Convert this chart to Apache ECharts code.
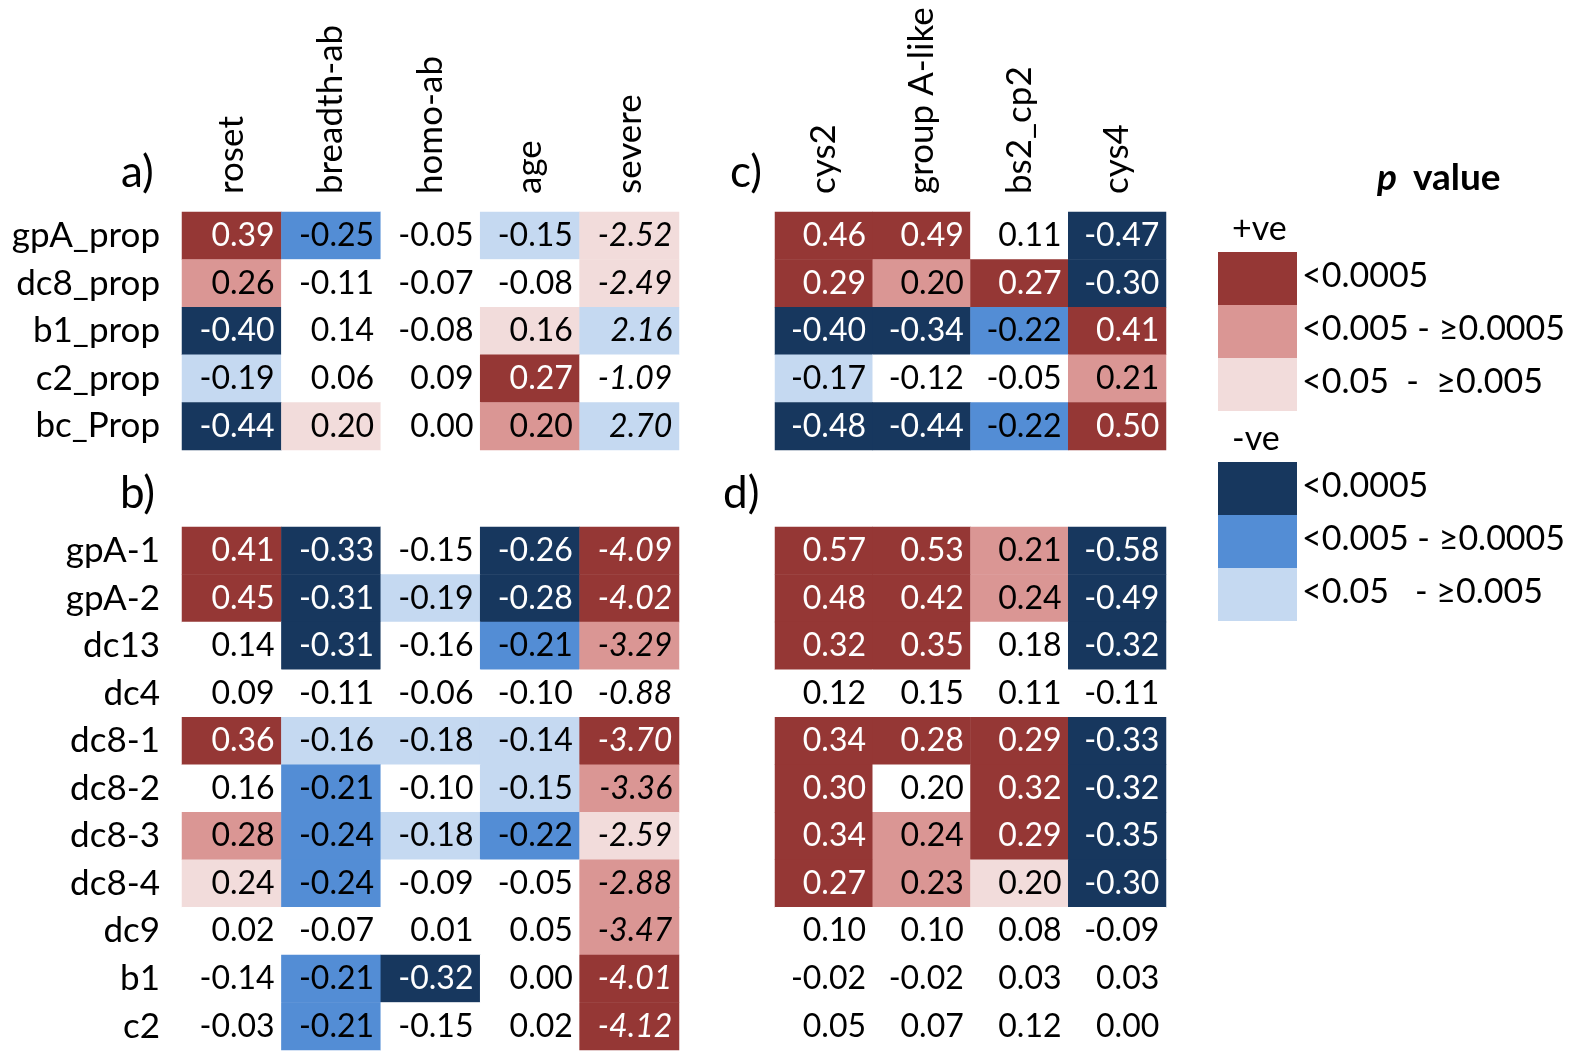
<!DOCTYPE html>
<html>
<head>
<meta charset="utf-8">
<script src="https://cdn.jsdelivr.net/npm/echarts@6/dist/echarts.min.js"></script>
<style>
  html, body { margin: 0; padding: 0; background: #fff; }
  #chart { width: 1575px; height: 1060px; }
</style>
</head>
<body>
<div id="chart"></div>
<script>
// column / row names
var colsA = ['roset', 'breadth-ab', 'homo-ab', 'age', 'severe'];
var colsC = ['cys2', 'group A-like', 'bs2_cp2', 'cys4'];
var rowsA = ['gpA_prop', 'dc8_prop', 'b1_prop', 'c2_prop', 'bc_Prop'];
var rowsB = ['gpA-1', 'gpA-2', 'dc13', 'dc4', 'dc8-1', 'dc8-2', 'dc8-3', 'dc8-4', 'dc9', 'b1', 'c2'];

// values (one array per row)
var valuesA = [
  [0.39, -0.25, -0.05, -0.15, -2.52],
  [0.26, -0.11, -0.07, -0.08, -2.49],
  [-0.40, 0.14, -0.08, 0.16, 2.16],
  [-0.19, 0.06, 0.09, 0.27, -1.09],
  [-0.44, 0.20, 0.00, 0.20, 2.70]
];
var valuesB = [
  [0.41, -0.33, -0.15, -0.26, -4.09],
  [0.45, -0.31, -0.19, -0.28, -4.02],
  [0.14, -0.31, -0.16, -0.21, -3.29],
  [0.09, -0.11, -0.06, -0.10, -0.88],
  [0.36, -0.16, -0.18, -0.14, -3.70],
  [0.16, -0.21, -0.10, -0.15, -3.36],
  [0.28, -0.24, -0.18, -0.22, -2.59],
  [0.24, -0.24, -0.09, -0.05, -2.88],
  [0.02, -0.07, 0.01, 0.05, -3.47],
  [-0.14, -0.21, -0.32, 0.00, -4.01],
  [-0.03, -0.21, -0.15, 0.02, -4.12]
];
var valuesC = [
  [0.46, 0.49, 0.11, -0.47],
  [0.29, 0.20, 0.27, -0.30],
  [-0.40, -0.34, -0.22, 0.41],
  [-0.17, -0.12, -0.05, 0.21],
  [-0.48, -0.44, -0.22, 0.50]
];
var valuesD = [
  [0.57, 0.53, 0.21, -0.58],
  [0.48, 0.42, 0.24, -0.49],
  [0.32, 0.35, 0.18, -0.32],
  [0.12, 0.15, 0.11, -0.11],
  [0.34, 0.28, 0.29, -0.33],
  [0.30, 0.20, 0.32, -0.32],
  [0.34, 0.24, 0.29, -0.35],
  [0.27, 0.23, 0.20, -0.30],
  [0.10, 0.10, 0.08, -0.09],
  [-0.02, -0.02, 0.03, 0.03],
  [0.05, 0.07, 0.12, 0.00]
];

// significance class: +3/-3 p<0.0005, +2/-2 p<0.005, +1/-1 p<0.05, 0 n.s.
// sign = shade (+ red, - blue)
var levelsA = [
  [3, -2, 0, -1, 1],
  [2, 0, 0, 0, 1],
  [-3, 0, 0, 1, -1],
  [-1, 0, 0, 3, 0],
  [-3, 1, 0, 2, -1]
];
var levelsB = [
  [3, -3, 0, -3, 3],
  [3, -3, -1, -3, 3],
  [0, -3, 0, -2, 2],
  [0, 0, 0, 0, 0],
  [3, -1, -1, -1, 3],
  [0, -2, 0, -1, 2],
  [2, -2, -1, -2, 1],
  [1, -2, 0, 0, 2],
  [0, 0, 0, 0, 2],
  [0, -2, -3, 0, 3],
  [0, -2, 0, 0, 3]
];
var levelsC = [
  [3, 3, 0, -3],
  [3, 2, 3, -3],
  [-3, -3, -2, 3],
  [-1, 0, 0, 2],
  [-3, -3, -2, 3]
];
var levelsD = [
  [3, 3, 2, -3],
  [3, 3, 2, -3],
  [3, 3, 0, -3],
  [0, 0, 0, 0],
  [3, 3, 3, -3],
  [3, 0, 3, -3],
  [3, 2, 3, -3],
  [3, 2, 1, -3],
  [0, 0, 0, 0],
  [0, 0, 0, 0],
  [0, 0, 0, 0]
];

var legendLabels = ['<0.0005', '<0.005 - \u22650.0005', '<0.05  -  \u22650.005'];
var legendLabelsNeg = ['<0.0005', '<0.005 - \u22650.0005', '<0.05   - \u22650.005'];

var shade = {
  '3': '#953735', '2': '#DA9694', '1': '#F2DCDB', '0': '#FFFFFF',
  '-1': '#C5D9F1', '-2': '#538DD5', '-3': '#17375E'
};

var FONT = 'Lato, "Open Sans", sans-serif';
var FS = 32;      // cell numbers
var FS_AX = 35;   // row / column names
var FS_LEG = 34;  // legend

function buildData(values, levels, italicCol) {
  var out = [];
  for (var r = 0; r < values.length; r++) {
    for (var c = 0; c < values[r].length; c++) {
      var lv = levels[r][c];
      out.push({
        value: [c, r, values[r][c], lv],
        label: {
          color: Math.abs(lv) == 3 ? '#fff' : '#000',
          fontStyle: c === italicCol ? 'italic' : 'normal'
        }
      });
    }
  }
  return out;
}

var grids = [
  { left: 182, top: 212, width: 497, height: 238 },
  { left: 182, top: 527, width: 497, height: 523 },
  { left: 775, top: 212, width: 391, height: 238 },
  { left: 775, top: 527, width: 391, height: 523 }
];

function xAx(idx, cols, showLabel) {
  return {
    type: 'category', gridIndex: idx, data: cols, position: 'top',
    axisLine: { show: false }, axisTick: { show: false }, splitLine: { show: false },
    axisLabel: { show: showLabel, rotate: -90, margin: 18, interval: 0,
      fontFamily: FONT, fontSize: FS_AX, color: '#000' }
  };
}
function yAx(idx, rows, showLabel) {
  return {
    type: 'category', gridIndex: idx, data: rows, inverse: true,
    axisLine: { show: false }, axisTick: { show: false }, splitLine: { show: false },
    axisLabel: { show: showLabel, margin: 22, interval: 0,
      fontFamily: FONT, fontSize: FS_AX, color: '#000' }
  };
}

function heat(idx, values, levels, italicCol) {
  return {
    type: 'heatmap', xAxisIndex: idx, yAxisIndex: idx,
    data: buildData(values, levels, italicCol),
    itemStyle: { borderWidth: 0 },
    emphasis: { disabled: true },
    label: {
      show: true, position: 'insideRight', distance: 7,
      fontFamily: FONT, fontSize: FS,
      formatter: function (p) { return p.value[2].toFixed(2); }
    }
  };
}

var pieces = [];
for (var k = -3; k <= 3; k++) pieces.push({ value: k, color: shade[String(k)] });

// panel letters and legend
var graphics = [];
function panelLetter(txt, x, y) {
  graphics.push({ type: 'text', left: x, top: y,
    style: { text: txt, fontFamily: FONT, fontSize: 44, fill: '#000' } });
}
panelLetter('a)', 121, 151);
panelLetter('b)', 120, 472);
panelLetter('c)', 730, 151);
panelLetter('d)', 723, 472);

graphics.push({ type: 'text', left: 1377, top: 160,
  style: {
    text: '{p|p}{v|value}',
    rich: {
      p: { fontFamily: FONT, fontSize: 37, fontWeight: 'bold', fontStyle: 'italic', fill: '#000', padding: [0, 16, 0, 0] },
      v: { fontFamily: FONT, fontSize: 37, fontWeight: 'bold', fill: '#000' }
    }
  } });

function legendGroup(head, headTop, boxTop, levs, labels) {
  graphics.push({ type: 'text', left: 1232, top: headTop,
    style: { text: head, fontFamily: FONT, fontSize: FS_LEG, fill: '#000' } });
  for (var i = 0; i < 3; i++) {
    graphics.push({ type: 'rect', shape: { x: 1218, y: boxTop + i * 53, width: 79, height: 53 },
      style: { fill: shade[String(levs[i])] } });
    graphics.push({ type: 'text', left: 1302, top: boxTop + i * 53 + 7,
      style: { text: labels[i], fontFamily: FONT, fontSize: FS_LEG, fill: '#000' } });
  }
}
legendGroup('+ve', 212, 252, [3, 2, 1], legendLabels);
legendGroup('-ve', 422, 462, [-3, -2, -1], legendLabelsNeg);

var chart = echarts.init(document.getElementById('chart'));
chart.setOption({
  animation: false,
  backgroundColor: '#fff',
  grid: grids,
  xAxis: [xAx(0, colsA, true), xAx(1, colsA, false), xAx(2, colsC, true), xAx(3, colsC, false)],
  yAxis: [yAx(0, rowsA, true), yAx(1, rowsB, true), yAx(2, rowsA, false), yAx(3, rowsB, false)],
  visualMap: {
    type: 'piecewise', show: false, dimension: 3, seriesIndex: [0, 1, 2, 3],
    pieces: pieces
  },
  series: [
    heat(0, valuesA, levelsA, 4),
    heat(1, valuesB, levelsB, 4),
    heat(2, valuesC, levelsC, -1),
    heat(3, valuesD, levelsD, -1)
  ],
  graphic: graphics
});
window.addEventListener('resize', function () { chart.resize(); });
</script>
</body>
</html>
